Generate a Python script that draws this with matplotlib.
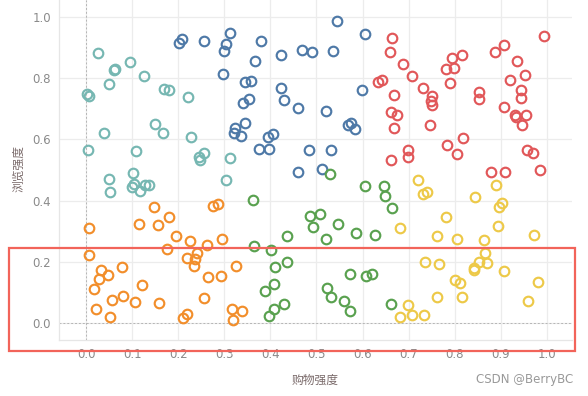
"""
Scatter of browsing vs shopping intensity, six clusters, Tableau-like styling.
Output: out.png (588x396)
"""

import matplotlib.pyplot as plt
from matplotlib.patches import Rectangle

plt.rcParams["font.family"] = ["DejaVu Sans"]

# cluster points (x = 购物强度, y = 浏览强度)
teal_x = [0.025, 0.003, 0.006, 0.049, 0.063, 0.061, 0.096, 0.125, 0.169, 0.179,
          0.221, 0.038, 0.004, 0.149, 0.166, 0.108, 0.227, 0.256, 0.245, 0.248,
          0.312, 0.049, 0.051, 0.101, 0.099, 0.103, 0.116, 0.128, 0.136, 0.303]
teal_y = [0.883, 0.748, 0.740, 0.781, 0.829, 0.826, 0.853, 0.807, 0.763, 0.760,
          0.738, 0.622, 0.566, 0.650, 0.622, 0.563, 0.607, 0.556, 0.541, 0.532,
          0.540, 0.471, 0.429, 0.489, 0.444, 0.454, 0.432, 0.450, 0.452, 0.468]

blue_x = [0.202, 0.209, 0.257, 0.312, 0.303, 0.299, 0.297, 0.379, 0.367, 0.422,
          0.469, 0.490, 0.537, 0.545, 0.605, 0.345, 0.357, 0.424, 0.429, 0.340,
          0.353, 0.461, 0.520, 0.599, 0.346, 0.323, 0.320, 0.336, 0.394, 0.406,
          0.375, 0.396, 0.484, 0.531, 0.569, 0.575, 0.584, 0.461, 0.512]
blue_y = [0.915, 0.929, 0.922, 0.948, 0.912, 0.889, 0.814, 0.921, 0.856, 0.876,
          0.892, 0.884, 0.889, 0.987, 0.945, 0.788, 0.792, 0.767, 0.729, 0.719,
          0.732, 0.703, 0.693, 0.760, 0.654, 0.636, 0.620, 0.612, 0.609, 0.617,
          0.569, 0.569, 0.566, 0.566, 0.647, 0.652, 0.635, 0.492, 0.504]

red_x = [0.665, 0.659, 0.688, 0.634, 0.642, 0.668, 0.662, 0.675, 0.668, 0.662,
         0.699, 0.699, 0.707, 0.732, 0.751, 0.748, 0.750, 0.746, 0.795, 0.816,
         0.781, 0.798, 0.789, 0.853, 0.852, 0.887, 0.906, 0.993, 0.936, 0.952,
         0.921, 0.943, 0.943, 0.906, 0.930, 0.933, 0.954, 0.946, 0.783, 0.805,
         0.819, 0.956, 0.971, 0.985, 0.878, 0.909]
red_y = [0.932, 0.886, 0.847, 0.788, 0.793, 0.746, 0.689, 0.678, 0.636, 0.533,
         0.564, 0.542, 0.807, 0.767, 0.742, 0.725, 0.711, 0.647, 0.866, 0.877,
         0.829, 0.832, 0.785, 0.755, 0.732, 0.886, 0.909, 0.938, 0.856, 0.811,
         0.794, 0.760, 0.735, 0.706, 0.679, 0.672, 0.679, 0.647, 0.581, 0.553,
         0.605, 0.565, 0.555, 0.501, 0.494, 0.494]

orange_x = [0.007, 0.007, 0.033, 0.048, 0.029, 0.017, 0.077, 0.121, 0.021, 0.051,
            0.057, 0.080, 0.106, 0.159, 0.210, 0.219, 0.257, 0.264, 0.292, 0.218,
            0.237, 0.235, 0.241, 0.176, 0.262, 0.225, 0.195, 0.294, 0.114, 0.157,
            0.179, 0.147, 0.275, 0.286, 0.325, 0.316, 0.318, 0.339]
orange_y = [0.312, 0.224, 0.175, 0.157, 0.144, 0.112, 0.182, 0.126, 0.046, 0.020,
            0.077, 0.090, 0.068, 0.065, 0.018, 0.030, 0.083, 0.152, 0.155, 0.212,
            0.208, 0.188, 0.229, 0.241, 0.255, 0.269, 0.283, 0.276, 0.324, 0.320,
            0.348, 0.379, 0.382, 0.390, 0.188, 0.046, 0.011, 0.041]

green_x = [0.529, 0.362, 0.605, 0.646, 0.648, 0.663, 0.485, 0.507, 0.492, 0.547,
           0.585, 0.628, 0.437, 0.520, 0.364, 0.401, 0.437, 0.409, 0.572, 0.608,
           0.620, 0.407, 0.388, 0.523, 0.531, 0.559, 0.572, 0.429, 0.407, 0.396,
           0.661]
green_y = [0.487, 0.403, 0.449, 0.447, 0.416, 0.377, 0.350, 0.357, 0.315, 0.324,
           0.294, 0.288, 0.285, 0.275, 0.253, 0.239, 0.201, 0.184, 0.162, 0.155,
           0.162, 0.129, 0.105, 0.114, 0.086, 0.073, 0.039, 0.063, 0.046, 0.025,
           0.062]

yellow_x = [0.720, 0.732, 0.740, 0.844, 0.889, 0.903, 0.897, 0.781, 0.893, 0.681,
            0.761, 0.806, 0.863, 0.973, 0.866, 0.853, 0.870, 0.841, 0.841, 0.735,
            0.765, 0.907, 0.800, 0.811, 0.980, 0.761, 0.815, 0.960, 0.698, 0.708,
            0.734, 0.681]
yellow_y = [0.468, 0.422, 0.427, 0.413, 0.452, 0.391, 0.380, 0.347, 0.318, 0.310,
            0.283, 0.276, 0.273, 0.289, 0.230, 0.201, 0.197, 0.179, 0.173, 0.200,
            0.194, 0.170, 0.142, 0.130, 0.135, 0.087, 0.087, 0.073, 0.060, 0.028,
            0.028, 0.021]

x_ticks = [0.0, 0.1, 0.2, 0.3, 0.4, 0.5, 0.6, 0.7, 0.8, 0.9, 1.0]
y_ticks = [0.0, 0.2, 0.4, 0.6, 0.8, 1.0]

series = [
    (teal_x, teal_y, "#76B7B2"),
    (blue_x, blue_y, "#4E79A7"),
    (red_x, red_y, "#E15759"),
    (orange_x, orange_y, "#F28E2B"),
    (green_x, green_y, "#59A14F"),
    (yellow_x, yellow_y, "#EDC948"),
]

fig = plt.figure(figsize=(5.88, 3.96), dpi=100)
ax = fig.add_axes([0.1009, 0.1414, 0.8714, 0.8586])

for xs, ys, color in series:
    ax.plot(xs, ys, linestyle="none", marker="o", markersize=6.9,
            markerfacecolor="none", markeredgecolor=color, markeredgewidth=1.55,
            zorder=3)

ax.set_xlim(-0.058, 1.054)
ax.set_ylim(-0.055, 1.055)
ax.set_xticks(x_ticks)
ax.set_yticks(y_ticks)
ax.set_xticklabels([f"{v:.1f}" for v in x_ticks])
ax.set_yticklabels([f"{v:.1f}" for v in y_ticks])
ax.tick_params(length=0, labelsize=8.5, labelcolor="#8a8a8a", pad=6)
ax.grid(color="#ececec", linewidth=0.9, zorder=0)
ax.set_axisbelow(True)

for side in ["top", "right"]:
    ax.spines[side].set_visible(False)
for side in ["left", "bottom"]:
    ax.spines[side].set_color("#e6e6e6")
    ax.spines[side].set_linewidth(0.9)

# zero reference lines
ax.axhline(0, color="#b5b5b5", linestyle=(0, (2, 2)), linewidth=0.7, zorder=1)
ax.axvline(0, color="#b5b5b5", linestyle=(0, (2, 2)), linewidth=0.7, zorder=1)

cjk = ["Noto Sans CJK SC", "DejaVu Sans"]
fig.text(315 / 588, 1 - 380 / 396, "购物强度", family=cjk, fontsize=8.5,
         color="#7a6a6a", ha="center", va="center")
fig.text(19 / 588, 1 - 169 / 396, "浏览强度", family=cjk, fontsize=8.5,
         color="#7a6a6a", ha="center", va="center", rotation=90)
fig.text(573 / 588, 1 - 380 / 396, "CSDN @BerryBC", fontsize=8.5,
         color="#999999", ha="right", va="center")

# highlight box drawn over the lower band
fig.patches.append(Rectangle((9 / 588, 1 - 351 / 396), 566 / 588, 103 / 396,
                             transform=fig.transFigure, fill=False,
                             edgecolor="#F2645A", linewidth=1.6, zorder=5))

fig.savefig("out.png", dpi=100)
plt.close(fig)
